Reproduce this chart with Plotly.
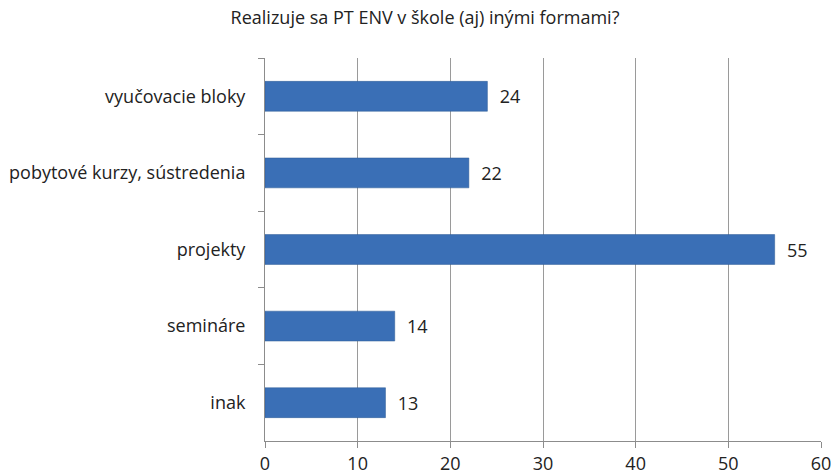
import plotly.graph_objects as go

categories = ["vyučovacie bloky", "pobytové kurzy, sústredenia", "projekty", "semináre", "inak"]
values = [24, 22, 55, 14, 13]
x_ticks = [0, 10, 20, 30, 40, 50, 60]
title = "Realizuje sa PT ENV v škole (aj) inými formami?"

font_family = "'Open Sans', sans-serif"

fig = go.Figure()
fig.add_trace(go.Bar(
    y=categories,
    x=values,
    orientation="h",
    width=0.39,
    marker=dict(color="#3a6fb6", line=dict(color="#2c5a94", width=0.5)),
    text=[f"  {v}" for v in values],
    textposition="outside",
    textfont=dict(family=font_family, size=18, color="#222"),
    cliponaxis=False,
    hoverinfo="x+y",
))

fig.update_layout(
    width=832, height=475,
    paper_bgcolor="white", plot_bgcolor="white",
    margin=dict(l=265, r=11, t=58, b=34, autoexpand=False),
    title=dict(text=title, x=425 / 832, xref="container", y=1 - 18 / 475, yref="container",
               xanchor="center", yanchor="middle", pad=dict(t=0, b=0, l=0, r=0),
               font=dict(family=font_family, size=18, color="#222")),
    showlegend=False,
    bargap=0.5,
)
fig.update_xaxes(
    range=[0, 60], tickvals=x_ticks, ticktext=[str(t) for t in x_ticks],
    showgrid=True, gridcolor="#9a9a9a", gridwidth=1,
    showline=True, linecolor="#8c8c8c", linewidth=1,
    ticks="outside", ticklen=6, tickcolor="#8c8c8c",
    tickfont=dict(family=font_family, size=18, color="#222"),
    zeroline=False, fixedrange=True, automargin=False, ticklabelstandoff=0,
    ticklabeloverflow="allow",
)
fig.update_yaxes(
    categoryorder="array", categoryarray=categories, autorange="reversed",
    showline=True, linecolor="#8c8c8c", linewidth=1,
    ticks="outside", ticklen=6, tickcolor="#8c8c8c", tickson="boundaries",
    tickfont=dict(family=font_family, size=18, color="#222"),
    showgrid=False, fixedrange=True, ticklabelstandoff=15, automargin=False,
)

fig.write_html(
    "out.html",
    config={"displayModeBar": False},
    post_script="document.body.style.margin='0';document.body.style.overflow='hidden';",
)
